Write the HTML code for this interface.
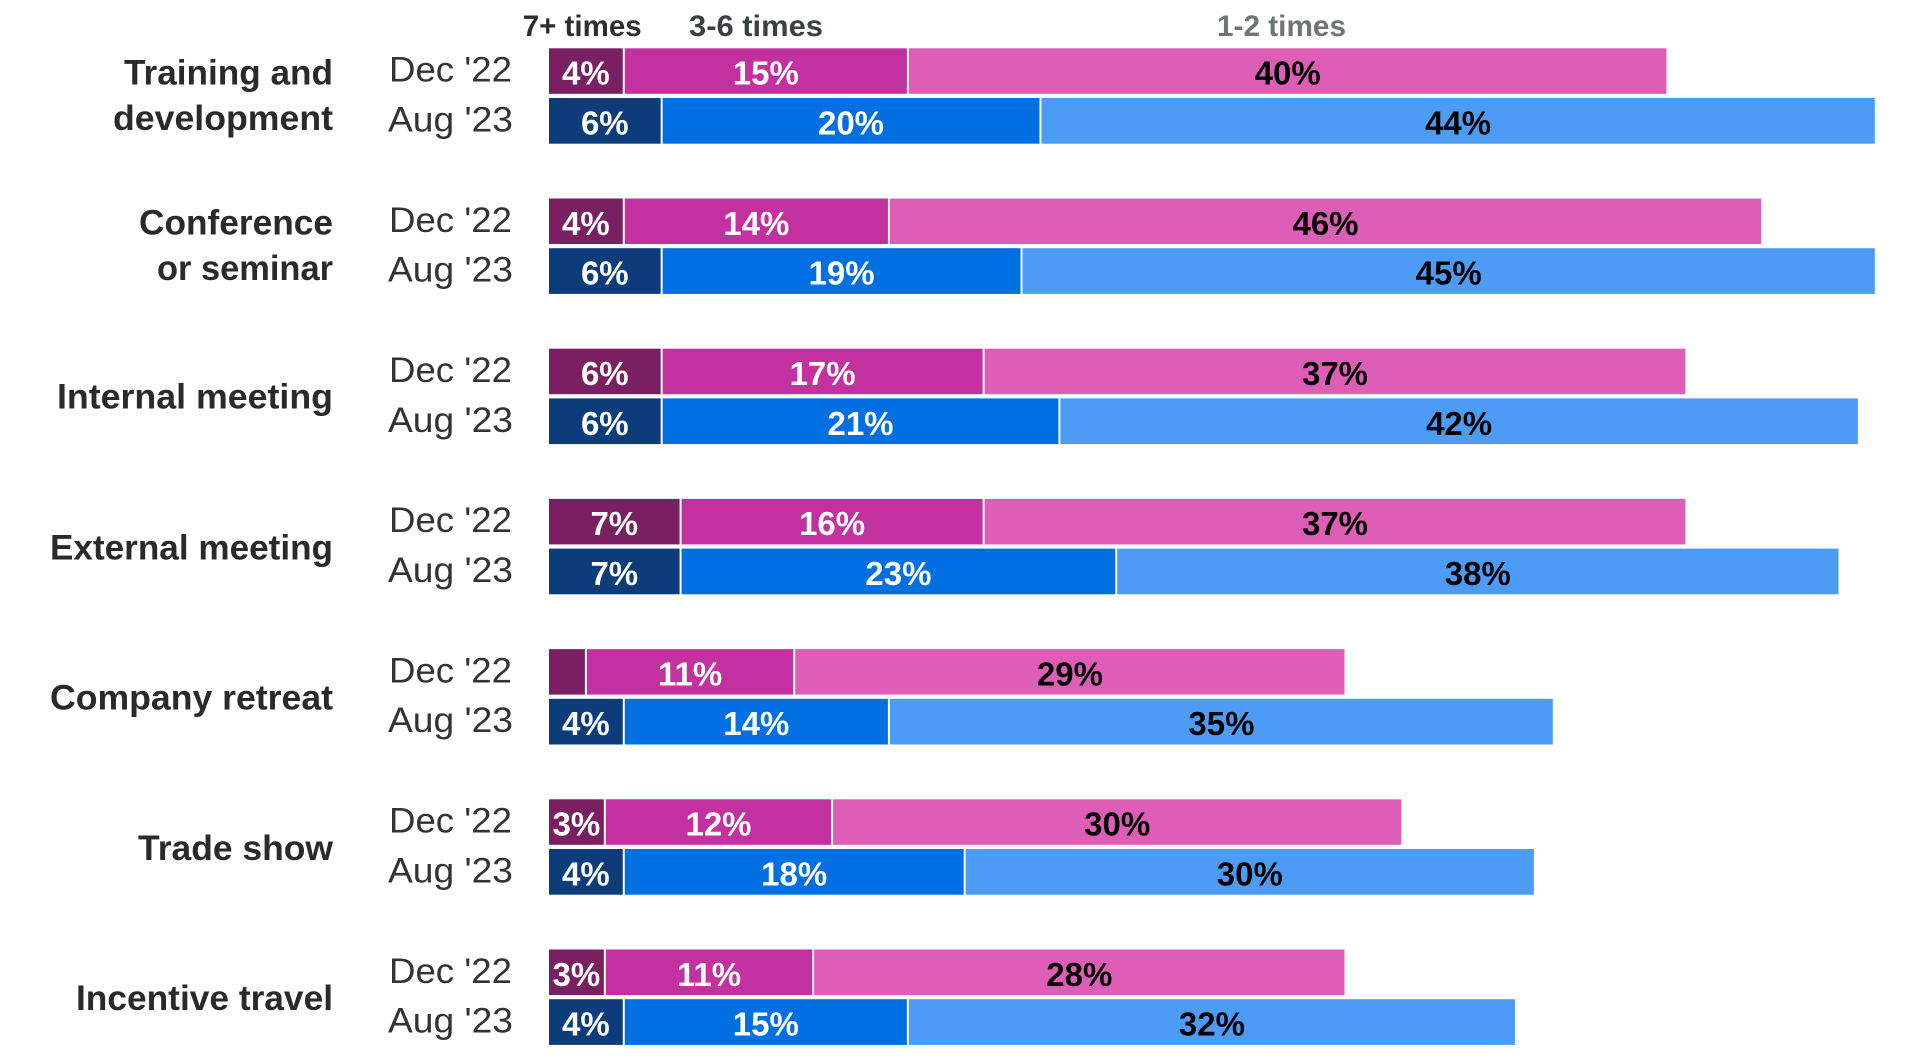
<!DOCTYPE html>
<html>
<head>
<meta charset="utf-8">
<style>
html,body{margin:0;padding:0;background:#fff;}
svg{display:block;}
text{font-family:"Liberation Sans",Arial,sans-serif;}
.cat{font-size:35px;font-weight:bold;fill:#2a2a2a;text-anchor:end;}
.dt{font-size:35px;fill:#333;}
.lg{font-size:30px;font-weight:bold;}
.pw{font-size:33px;font-weight:bold;fill:#fff;text-anchor:middle;}
.pb{font-size:33px;font-weight:bold;fill:#000;text-anchor:middle;}
</style>
</head>
<body>
<svg width="1920" height="1063" viewBox="0 0 1920 1063" xmlns="http://www.w3.org/2000/svg">
<rect x="0" y="0" width="1920" height="1063" fill="#fff"/>

<!-- legend -->
<text class="lg" x="522.7" y="36" fill="#2d2d2d" textLength="119" lengthAdjust="spacingAndGlyphs">7+ times</text>
<text class="lg" x="689" y="36" fill="#3b4141" textLength="134" lengthAdjust="spacingAndGlyphs">3-6 times</text>
<text class="lg" x="1217" y="36" fill="#6e7675" textLength="129" lengthAdjust="spacingAndGlyphs">1-2 times</text>

<!-- category labels -->
<text class="cat" x="333" y="84.3" textLength="209" lengthAdjust="spacingAndGlyphs">Training and</text>
<text class="cat" x="333" y="130" textLength="220" lengthAdjust="spacingAndGlyphs">development</text>
<text class="cat" x="333" y="234.5" textLength="194" lengthAdjust="spacingAndGlyphs">Conference</text>
<text class="cat" x="333" y="280.2" textLength="176" lengthAdjust="spacingAndGlyphs">or seminar</text>
<text class="cat" x="333" y="408.5" textLength="276" lengthAdjust="spacingAndGlyphs">Internal meeting</text>
<text class="cat" x="333" y="559.3" textLength="283" lengthAdjust="spacingAndGlyphs">External meeting</text>
<text class="cat" x="333" y="709.5" textLength="283" lengthAdjust="spacingAndGlyphs">Company retreat</text>
<text class="cat" x="333" y="859.9" textLength="195" lengthAdjust="spacingAndGlyphs">Trade show</text>
<text class="cat" x="333" y="1010.1" textLength="257" lengthAdjust="spacingAndGlyphs">Incentive travel</text>

<!-- date labels -->
<g class="dt">
<text x="389" y="81.6" textLength="123" lengthAdjust="spacingAndGlyphs">Dec '22</text>
<text x="388" y="131.4" textLength="125" lengthAdjust="spacingAndGlyphs">Aug '23</text>
<text x="389" y="231.8" textLength="123" lengthAdjust="spacingAndGlyphs">Dec '22</text>
<text x="388" y="281.6" textLength="125" lengthAdjust="spacingAndGlyphs">Aug '23</text>
<text x="389" y="382" textLength="123" lengthAdjust="spacingAndGlyphs">Dec '22</text>
<text x="388" y="431.8" textLength="125" lengthAdjust="spacingAndGlyphs">Aug '23</text>
<text x="389" y="532.2" textLength="123" lengthAdjust="spacingAndGlyphs">Dec '22</text>
<text x="388" y="582" textLength="125" lengthAdjust="spacingAndGlyphs">Aug '23</text>
<text x="389" y="682.4" textLength="123" lengthAdjust="spacingAndGlyphs">Dec '22</text>
<text x="388" y="732.2" textLength="125" lengthAdjust="spacingAndGlyphs">Aug '23</text>
<text x="389" y="832.6" textLength="123" lengthAdjust="spacingAndGlyphs">Dec '22</text>
<text x="388" y="882.4" textLength="125" lengthAdjust="spacingAndGlyphs">Aug '23</text>
<text x="389" y="982.8" textLength="123" lengthAdjust="spacingAndGlyphs">Dec '22</text>
<text x="388" y="1032.6" textLength="125" lengthAdjust="spacingAndGlyphs">Aug '23</text>
</g>

<!-- Group 0: Training and development -->
<rect x="549" y="48.3" width="73.76" height="45.5" fill="#7a1f62"/>
<rect x="624.76" y="48.3" width="282.1" height="45.5" fill="#c3309f"/>
<rect x="908.86" y="48.3" width="757.6" height="45.5" fill="#de5db7"/>
<text class="pw" x="585.9" y="84.6">4%</text>
<text class="pw" x="765.8" y="84.6">15%</text>
<text class="pb" x="1287.7" y="84.6">40%</text>
<rect x="549" y="98" width="111.64" height="45.7" fill="#0d3c7b"/>
<rect x="662.64" y="98" width="376.8" height="45.7" fill="#006fe2"/>
<rect x="1041.44" y="98" width="833.36" height="45.7" fill="#4c9cf6"/>
<text class="pw" x="604.8" y="134.4">6%</text>
<text class="pw" x="851" y="134.4">20%</text>
<text class="pb" x="1458.1" y="134.4">44%</text>

<!-- Group 1: Conference -->
<rect x="549" y="198.5" width="73.76" height="45.5" fill="#7a1f62"/>
<rect x="624.76" y="198.5" width="263.16" height="45.5" fill="#c3309f"/>
<rect x="889.92" y="198.5" width="871.24" height="45.5" fill="#de5db7"/>
<text class="pw" x="585.9" y="234.8">4%</text>
<text class="pw" x="756.3" y="234.8">14%</text>
<text class="pb" x="1325.5" y="234.8">46%</text>
<rect x="549" y="248.2" width="111.64" height="45.7" fill="#0d3c7b"/>
<rect x="662.64" y="248.2" width="357.86" height="45.7" fill="#006fe2"/>
<rect x="1022.5" y="248.2" width="852.3" height="45.7" fill="#4c9cf6"/>
<text class="pw" x="604.8" y="284.6">6%</text>
<text class="pw" x="841.6" y="284.6">19%</text>
<text class="pb" x="1448.7" y="284.6">45%</text>

<!-- Group 2: Internal meeting -->
<rect x="549" y="348.7" width="111.64" height="45.5" fill="#7a1f62"/>
<rect x="662.64" y="348.7" width="319.98" height="45.5" fill="#c3309f"/>
<rect x="984.62" y="348.7" width="700.78" height="45.5" fill="#de5db7"/>
<text class="pw" x="604.8" y="385">6%</text>
<text class="pw" x="822.6" y="385">17%</text>
<text class="pb" x="1335" y="385">37%</text>
<rect x="549" y="398.4" width="111.64" height="45.7" fill="#0d3c7b"/>
<rect x="662.64" y="398.4" width="395.74" height="45.7" fill="#006fe2"/>
<rect x="1060.38" y="398.4" width="797.5" height="45.7" fill="#4c9cf6"/>
<text class="pw" x="604.8" y="434.8">6%</text>
<text class="pw" x="860.5" y="434.8">21%</text>
<text class="pb" x="1459.1" y="434.8">42%</text>

<!-- Group 3: External meeting -->
<rect x="549" y="498.9" width="130.58" height="45.5" fill="#7a1f62"/>
<rect x="681.58" y="498.9" width="301.04" height="45.5" fill="#c3309f"/>
<rect x="984.62" y="498.9" width="700.78" height="45.5" fill="#de5db7"/>
<text class="pw" x="614.3" y="535.2">7%</text>
<text class="pw" x="832.1" y="535.2">16%</text>
<text class="pb" x="1335" y="535.2">37%</text>
<rect x="549" y="548.6" width="130.58" height="45.7" fill="#0d3c7b"/>
<rect x="681.58" y="548.6" width="433.62" height="45.7" fill="#006fe2"/>
<rect x="1117.2" y="548.6" width="721.3" height="45.7" fill="#4c9cf6"/>
<text class="pw" x="614.3" y="585">7%</text>
<text class="pw" x="898.4" y="585">23%</text>
<text class="pb" x="1477.8" y="585">38%</text>

<!-- Group 4: Company retreat -->
<rect x="549" y="649.1" width="35.88" height="45.5" fill="#7a1f62"/>
<rect x="586.88" y="649.1" width="206.34" height="45.5" fill="#c3309f"/>
<rect x="795.22" y="649.1" width="549.26" height="45.5" fill="#de5db7"/>
<text class="pw" x="690.1" y="685.4">11%</text>
<text class="pb" x="1069.9" y="685.4">29%</text>
<rect x="549" y="698.8" width="73.76" height="45.7" fill="#0d3c7b"/>
<rect x="624.76" y="698.8" width="263.16" height="45.7" fill="#006fe2"/>
<rect x="889.92" y="698.8" width="662.9" height="45.7" fill="#4c9cf6"/>
<text class="pw" x="585.9" y="735.2">4%</text>
<text class="pw" x="756.3" y="735.2">14%</text>
<text class="pb" x="1221.4" y="735.2">35%</text>

<!-- Group 5: Trade show -->
<rect x="549" y="799.3" width="54.82" height="45.5" fill="#7a1f62"/>
<rect x="605.82" y="799.3" width="225.28" height="45.5" fill="#c3309f"/>
<rect x="833.1" y="799.3" width="568.2" height="45.5" fill="#de5db7"/>
<text class="pw" x="576.4" y="835.6">3%</text>
<text class="pw" x="718.5" y="835.6">12%</text>
<text class="pb" x="1117.2" y="835.6">30%</text>
<rect x="549" y="849" width="73.76" height="45.7" fill="#0d3c7b"/>
<rect x="624.76" y="849" width="338.92" height="45.7" fill="#006fe2"/>
<rect x="965.68" y="849" width="568.2" height="45.7" fill="#4c9cf6"/>
<text class="pw" x="585.9" y="885.4">4%</text>
<text class="pw" x="794.2" y="885.4">18%</text>
<text class="pb" x="1249.8" y="885.4">30%</text>

<!-- Group 6: Incentive travel -->
<rect x="549" y="949.5" width="54.82" height="45.5" fill="#7a1f62"/>
<rect x="605.82" y="949.5" width="206.34" height="45.5" fill="#c3309f"/>
<rect x="814.16" y="949.5" width="530.32" height="45.5" fill="#de5db7"/>
<text class="pw" x="576.4" y="985.8">3%</text>
<text class="pw" x="709" y="985.8">11%</text>
<text class="pb" x="1079.3" y="985.8">28%</text>
<rect x="549" y="999.2" width="73.76" height="45.7" fill="#0d3c7b"/>
<rect x="624.76" y="999.2" width="282.1" height="45.7" fill="#006fe2"/>
<rect x="908.86" y="999.2" width="606.08" height="45.7" fill="#4c9cf6"/>
<text class="pw" x="585.9" y="1035.6">4%</text>
<text class="pw" x="765.8" y="1035.6">15%</text>
<text class="pb" x="1211.9" y="1035.6">32%</text>
</svg>
</body>
</html>
